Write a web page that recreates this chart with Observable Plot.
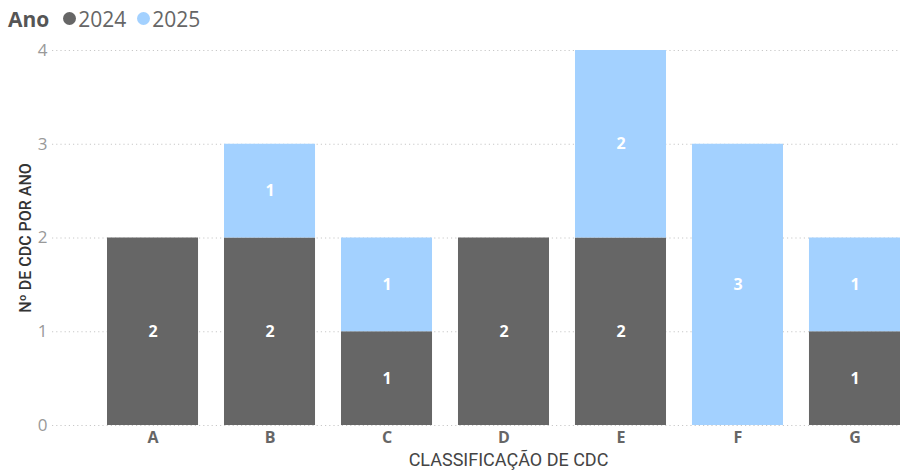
<!DOCTYPE html>
<html>
<head>
<meta charset="utf-8">
<script src="https://cdn.jsdelivr.net/npm/d3@7"></script>
<script src="https://cdn.jsdelivr.net/npm/@observablehq/plot@0.6"></script>
<style>
  html, body { margin: 0; padding: 0; background: #fff; }
  body { width: 900px; height: 473px; overflow: hidden; font-family: "Segoe UI", "Open Sans", "DejaVu Sans", sans-serif; }
  #legend { height: 37px; display: flex; align-items: center; padding-left: 8px; font-size: 21px; color: #666; }
  #legend .title { font-weight: 700; color: #555; margin-right: 14px; }
  #legend .item { display: flex; align-items: center; margin-right: 11px; }
  #legend .dot { width: 13px; height: 13px; border-radius: 50%; margin-right: 2px; }
  #chart svg { display: block; }
</style>
</head>
<body>
<div id="legend"></div>
<div id="chart"></div>
<script>
// Número de CDC por classificação e por ano
const categories = ["A", "B", "C", "D", "E", "F", "G"];
const years = ["2024", "2025"];
const values2024 = [2, 2, 1, 2, 2, 0, 1];
const values2025 = [0, 1, 1, 0, 2, 3, 1];
const colors = ["#666666", "#A3D1FF"];
const yTicks = [0, 1, 2, 3, 4];

const seriesValues = [values2024, values2025];
const rows = [];
years.forEach((ano, i) => {
  categories.forEach((cat, j) => {
    rows.push({cat, ano, n: seriesValues[i][j]});
  });
});
const nonZero = rows.filter(d => d.n > 0);

// Legenda
const legend = document.getElementById("legend");
legend.innerHTML = `<span class="title">Ano</span>` + years.map((y, i) =>
  `<span class="item"><span class="dot" style="background:${colors[i]}"></span>${y}</span>`).join("");

const chart = Plot.plot({
  width: 900,
  height: 436,
  marginLeft: 52,
  marginRight: 0,
  marginTop: 13,
  marginBottom: 48,
  style: {fontFamily: "'Segoe UI', 'Open Sans', 'DejaVu Sans', sans-serif", background: "#fff"},
  x: {domain: categories, range: [107, 900], paddingInner: 0.222, paddingOuter: 0, round: false, label: null},
  y: {domain: [0, 4], label: null},
  color: {domain: years, range: colors},
  marks: [
    Plot.gridY(yTicks, {stroke: "#c8c8c8", strokeOpacity: 1, strokeDasharray: "1.2 3"}),
    Plot.barY(nonZero, Plot.stackY({x: "cat", y: "n", z: "ano", fill: "ano", order: years})),
    Plot.text(nonZero, Plot.stackY({x: "cat", y: "n", z: "ano", order: years, text: d => String(d.n),
      fill: "white", fontWeight: 700, fontSize: 16})),
    Plot.axisY({ticks: yTicks, tickFormat: d3.format("d"), tickSize: 0, tickPadding: 5, fontSize: 17, fill: "#999",
      label: "Nº DE CDC POR ANO", labelAnchor: "center", labelArrow: "none", labelOffset: 33}),
    Plot.axisX({tickSize: 0, tickPadding: 6, fontSize: 16, fontWeight: 700, fill: "#666",
      label: "CLASSIFICAÇÃO DE CDC", labelAnchor: "center", labelArrow: "none", labelOffset: 40})
  ]
});
document.getElementById("chart").appendChild(chart);

// Estilo dos títulos dos eixos
chart.querySelectorAll("g[aria-label='y-axis label'] text").forEach(t => {
  t.setAttribute("font-family", "Roboto, 'DejaVu Sans', sans-serif");
  t.setAttribute("font-size", "16");
  t.setAttribute("font-weight", "500");
  t.setAttribute("fill", "#333");
});
// título do eixo x centrado sob as barras
chart.querySelectorAll("g[aria-label='x-axis label'] text").forEach(t => {
  t.setAttribute("font-family", "Roboto, 'DejaVu Sans', sans-serif");
  t.setAttribute("font-size", "18");
  t.setAttribute("font-weight", "400");
  t.setAttribute("fill", "#444");
  t.setAttribute("dx", "32");
});
</script>
</body>
</html>
